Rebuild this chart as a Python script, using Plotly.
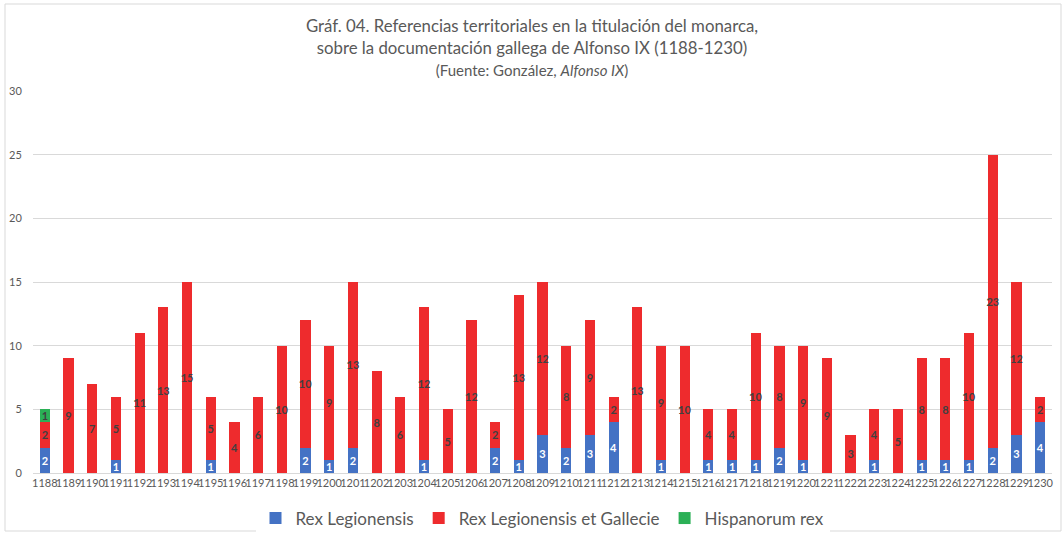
import plotly.graph_objects as go

years = [str(y) for y in range(1188, 1231)]
rex_legionensis = [2, 0, 0, 1, 0, 0, 0, 1, 0, 0, 0, 2, 1, 2, 0, 0, 1, 0, 0, 2, 1, 3, 2, 3, 4, 0,
                   1, 0, 1, 1, 1, 2, 1, 0, 0, 1, 0, 1, 1, 1, 2, 3, 4]
rex_leg_gallecie = [2, 9, 7, 5, 11, 13, 15, 5, 4, 6, 10, 10, 9, 13, 8, 6, 12, 5, 12, 2, 13, 12, 8, 9, 2, 13,
                    9, 10, 4, 4, 10, 8, 9, 9, 3, 4, 5, 8, 8, 10, 23, 12, 2]
hispanorum_rex = [1] + [0] * 42

def labels(vals):
    return [str(v) if v else "" for v in vals]

def vals_or_none(vals):
    return [v if v else None for v in vals]

FONT = "Lato"
fig = go.Figure()
series = [
    ("Rex Legionensis", rex_legionensis, "#4472C4", "white"),
    ("Rex Legionensis et Gallecie", rex_leg_gallecie, "#EE2B2D", "#404040"),
    ("Hispanorum rex", hispanorum_rex, "#2BB056", "#404040"),
]
for name, vals, color, tcolor in series:
    fig.add_trace(go.Bar(
        x=years, y=vals_or_none(vals), name=name,
        marker=dict(color=color, line=dict(width=0)),
        text=labels(vals), textposition="inside", insidetextanchor="middle",
        textangle=0, textfont=dict(color=tcolor, size=11, family=FONT, weight=700),
        cliponaxis=False,
    ))

fig.update_layout(
    barmode="stack",
    bargap=0.57,
    width=1064, height=534,
    paper_bgcolor="white", plot_bgcolor="white",
    margin=dict(l=33, r=12, t=91, b=61, autoexpand=False),
    font=dict(family=FONT, color="#595959"),
    uniformtext=dict(minsize=10, mode="show"),
    title=dict(
        text="Gráf. 04. Referencias territoriales en la titulación del monarca,<br>"
             "sobre la documentación gallega de Alfonso IX (1188-1230)<br>"
             "<span style='font-size:15px'>(Fuente: González, <i>Alfonso IX</i>)</span>",
        x=0.5, xanchor="center", xref="container",
        y=1 - 32 / 534, yanchor="top", yref="container",
        font=dict(size=16.8, color="#595959", family=FONT),
    ),
    xaxis=dict(tickangle=0, tickfont=dict(size=11, color="#595959"), showgrid=False,
               showline=True, linecolor="#D9D9D9", linewidth=1, ticks="",
               automargin=False),
    yaxis=dict(range=[0, 30], dtick=5, tickfont=dict(size=11, color="#595959"),
               gridcolor="#D9D9D9", gridwidth=1, zeroline=False,
               ticks="outside", ticklen=8, tickcolor="white", automargin=False),
    legend=dict(orientation="h", x=0.5, xanchor="center", y=-0.072, yanchor="top",
                font=dict(size=17, color="#595959"), traceorder="normal"),
    shapes=[dict(type="rect", xref="paper", yref="paper",
                 x0=(5 - 33) / 1019, x1=(1061 - 33) / 1019,
                 y0=(473 - 531) / 382, y1=(473 - 4) / 382,
                 line=dict(color="#D9D9D9", width=1), fillcolor="rgba(0,0,0,0)", layer="below")],
)

fig.write_html("out.html", config={"displayModeBar": False},
               post_script="document.body.style.margin='0';")
